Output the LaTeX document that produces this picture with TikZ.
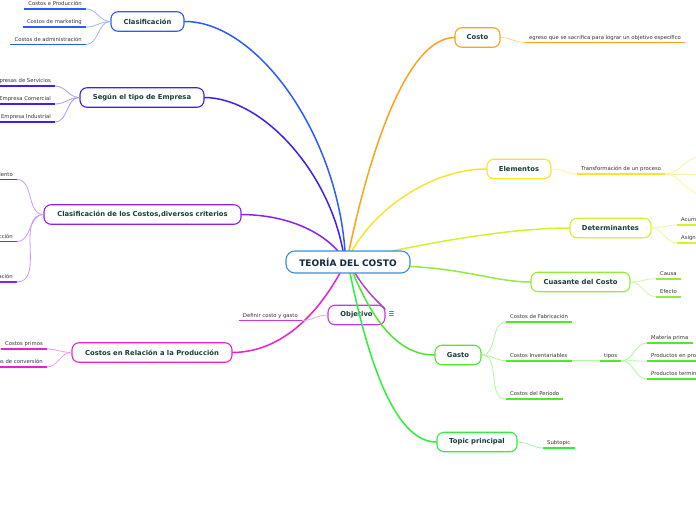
\documentclass[tikz,border=0pt]{standalone}
\usepackage{fontspec}
\setmainfont{DejaVu Sans}
\definecolor{ccen}{HTML}{3A8ED6}
\definecolor{cblue}{HTML}{2B5BFF}
\definecolor{cseg}{HTML}{3F1FEF}
\definecolor{cpur}{HTML}{8A22EE}
\definecolor{cmag}{HTML}{F020C8}
\definecolor{cobj}{HTML}{C636EE}
\definecolor{corg}{HTML}{FFA21A}
\definecolor{cyel}{HTML}{F6E52E}
\definecolor{cdet}{HTML}{D8F02C}
\definecolor{ccua}{HTML}{96EA3C}
\definecolor{cgas}{HTML}{4EEA2A}
\definecolor{ctop}{HTML}{2EF03A}
\definecolor{maintext}{HTML}{163D3A}
\definecolor{centext}{HTML}{102A43}
\definecolor{leaftext}{HTML}{333333}
\newcommand{\lf}[5]{\node[leaf,anchor=#3] (#1) at (#2) {#5};
  \draw[uline=#4] (#1.south west) -- (#1.south east);}
\begin{document}
\begin{tikzpicture}[x=1pt,y=-1pt,
  mainbox/.style={draw=#1, rounded corners=7pt, line width=1.1pt, fill=white,
    font=\bfseries\fontsize{6.8}{8}\selectfont, text=maintext,
    minimum height=19.5pt, inner sep=0pt},
  leaf/.style={font=\fontsize{5.3}{6}\selectfont, text=leaftext,
    inner xsep=4pt, inner ysep=2pt, text height=4pt, text depth=1.2pt},
  uline/.style={draw=#1, line width=1.8pt},
  lk/.style={draw=#1!45, line width=0.8pt},
  br/.style={draw=#1, line width=1.5pt, line cap=round}
]
\clip (0,0) rectangle (696,520);
\fill[white] (0,0) rectangle (696,520);

% central node anchors for branches
\coordinate (ct1) at (343,251);
\coordinate (ct2) at (345,251);
\coordinate (ct3) at (338,251);
\coordinate (ct4) at (349,251);
\coordinate (ct5) at (352,251);
\coordinate (ct6) at (392,251);
\coordinate (ct7) at (400,266);
\coordinate (cb1) at (340,273);
\coordinate (cb2) at (355,273);
\coordinate (cb3) at (353,273);
\coordinate (cb4) at (350,273);

% main nodes
\node[mainbox=cblue, minimum width=73pt]  (clas)  at (147.5,21.5) {Clasificación};
\node[mainbox=cseg,  minimum width=124pt] (segun) at (142,97.5)   {Según el tipo de Empresa};
\node[mainbox=cpur,  minimum width=197pt] (clasc) at (142.5,214.5) {Clasificación de los Costos,diversos criterios};
\node[mainbox=cmag,  minimum width=160pt] (rel)   at (152,352.5)  {Costos en Relación a la Producción};
\node[mainbox=cobj,  minimum width=57pt]  (obj)   at (356.5,315)  {Objetivo};
\node[mainbox=corg,  minimum width=45pt]  (costo) at (477.5,37.5) {Costo};
\node[mainbox=cyel,  minimum width=64pt]  (elem)  at (519,169)    {Elementos};
\node[mainbox=cdet,  minimum width=81pt]  (det)   at (610.5,228)  {Determinantes};
\node[mainbox=ccua,  minimum width=99pt]  (cuas)  at (580.5,282)  {Cuasante del Costo};
\node[mainbox=cgas,  minimum width=46pt]  (gasto) at (458,355)    {Gasto};
\node[mainbox=ctop,  minimum width=80pt]  (topic) at (477,442)    {Topic principal};
\node[text=maintext, font=\fontsize{6.5}{7}\selectfont, inner sep=0pt] (note) at (391.5,314.5) {☰};

% branches from the centre
\draw[br=cblue] (ct2) .. controls (336,130) and (255,21) .. (clas.east);
\draw[br=cseg]  (ct1) .. controls (328,170) and (262,98) .. (segun.east);
\draw[br=cpur]  (ct3) .. controls (322,233) and (290,215) .. (clasc.east);
\draw[br=cmag]  (cb1) .. controls (325,300) and (290,352) .. (rel.east);
\draw[br=cobj!85!black!90]  (cb2) .. controls (365,290) and (378,302) .. (385,309);
\draw[br=corg]  (ct4) .. controls (368,160) and (405,38) .. (costo.west);
\draw[br=cyel]  (ct5) .. controls (378,205) and (435,169) .. (elem.west);
\draw[br=cdet]  (ct6) .. controls (455,238) and (520,228) .. (det.west);
\draw[br=ccua]  (ct7) .. controls (465,268) and (495,282) .. (cuas.west);
\draw[br=cgas]  (cb3) .. controls (375,325) and (400,355) .. (gasto.west);
\draw[br=ctop]  (cb4) .. controls (372,380) and (400,442) .. (topic.west);

% centre node
\node[draw=ccen, rounded corners=9pt, line width=1.1pt, fill=white,
  minimum width=124pt, minimum height=22pt, inner sep=0pt,
  font=\bfseries\fontsize{9}{10}\selectfont, text=centext] (cen) at (348,262) {TEORÍA DEL COSTO};

% left leaves
\lf{l11}{86,9}{south east}{cblue}{Costos e Producción}
\lf{l12}{86,27}{south east}{cblue}{Costos de marketing}
\lf{l13}{86,44.5}{south east}{cblue}{Costos de administración}
\foreach \l in {l11,l12,l13} \draw[lk=cblue] (clas.west) to[out=180,in=0] (\l.south east);

\lf{l21}{55,86}{south east}{cseg}{Empresas de Servicios}
\lf{l22}{55,104}{south east}{cseg}{Empresa Comercial}
\lf{l23}{55,122}{south east}{cseg}{Empresa Industrial}
\foreach \l in {l21,l22,l23} \draw[lk=cseg] (segun.west) to[out=180,in=0] (\l.south east);

\lf{l31}{17,179.5}{south east}{cpur}{Según su comportamiento}
\lf{l32}{17,241.5}{south east}{cpur}{Según su función en la producción}
\lf{l33}{17,282}{south east}{cpur}{Según su identificación}
\foreach \l in {l31,l32,l33} \draw[lk=cpur] (clasc.west) to[out=180,in=0] (\l.south east);

\lf{l41}{47,349}{south east}{cmag}{Costos primos}
\lf{l42}{47,367}{south east}{cmag}{Costos de conversión}
\foreach \l in {l41,l42} \draw[lk=cmag] (rel.west) to[out=180,in=0] (\l.south east);

\lf{l51}{302,320.5}{south east}{cobj}{Definir costo y gasto}
\draw[lk=cobj] (obj.west) to[out=180,in=0] (l51.south east);

% right leaves
\lf{r11}{525,42.5}{south west}{corg}{egreso que se sacrifica para lograr un objetivo específico}
\draw[lk=corg] (costo.east) to[out=0,in=180] (r11.south west);

\lf{r21}{577,174}{south west}{cyel}{Transformación de un proceso}
\draw[lk=cyel] (elem.east) to[out=0,in=180] (r21.south west);
\coordinate (e1) at (700,157);
\coordinate (e2) at (700,174);
\coordinate (e3) at (700,193);
\draw[lk=cyel] (r21.south east) to[out=0,in=180] (e1);
\draw[lk=cyel] (r21.south east) -- (e2);
\draw[lk=cyel] (r21.south east) to[out=0,in=180] (e3);

\lf{r31}{677,225}{south west}{cdet}{Acumulación}
\lf{r32}{677,243}{south west}{cdet}{Asignación}
\foreach \l in {r31,r32} \draw[lk=cdet] (det.east) to[out=0,in=180] (\l.south west);

\lf{r41}{656,278.7}{south west}{ccua}{Causa}
\lf{r42}{656,296.7}{south west}{ccua}{Efecto}
\foreach \l in {r41,r42} \draw[lk=ccua] (cuas.east) to[out=0,in=180] (\l.south west);

\lf{r51}{506,322.3}{south west}{cgas}{Costos de Fabricación}
\lf{r52}{506,360.7}{south west}{cgas}{Costos Inventariables}
\lf{r53}{506,399}{south west}{cgas}{Costos del Periodo}
\foreach \l in {r51,r52,r53} \draw[lk=cgas] (gasto.east) to[out=0,in=180] (\l.south west);
\lf{r54}{600,360.7}{south west}{cgas}{tipos}
\draw[lk=cgas] (r52.south east) -- (r54.south west);
\lf{r55}{647,343}{south west}{cgas}{Materia prima}
\lf{r56}{647,361}{south west}{cgas}{Productos en proceso}
\lf{r57}{647,379}{south west}{cgas}{Productos terminados}
\foreach \l in {r55,r56,r57} \draw[lk=cgas] (r54.south east) to[out=0,in=180] (\l.south west);

\lf{r61}{543,448}{south west}{ctop}{Subtopic}
\draw[lk=ctop] (topic.east) to[out=0,in=180] (r61.south west);
\end{tikzpicture}
\end{document}
